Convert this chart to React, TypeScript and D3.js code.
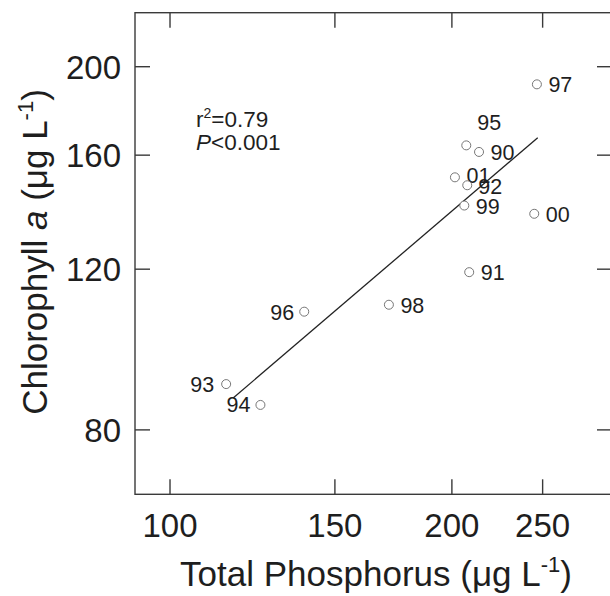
import { useEffect, useRef } from 'react'
import * as d3 from 'd3'

// years (labels), total phosphorus (ug/L), chlorophyll a (ug/L)
const years = ['97', '95', '90', '01', '92', '99', '00', '91', '96', '98', '93', '94']
const tpValues = [246.5, 207.2, 213.8, 201.5, 207.7, 206.2, 244.9, 208.7, 139.1, 171.3, 114.8, 124.9]
const chlValues = [191.3, 164.0, 161.3, 151.3, 148.3, 140.9, 138.0, 119.1, 107.8, 109.7, 89.8, 85.2]

// fitted regression line end points
const fitTp = [116.8, 247.0]
const fitChl = [86.7, 167.2]

const xTicks = [100, 150, 200, 250]
const yTicks = [80, 120, 160, 200]

// label placement per year: [dx, dy, anchor]
const labelPos: Record<string, [number, number, string]> = {
  '95': [23, -15, 'middle'],
  '01': [11.5, 6, 'start'],
  '92': [11, 9, 'start'],
  '96': [-10, 8, 'end'],
  '93': [-12, 8, 'end'],
  '94': [-10, 7, 'end'],
}

const W = 610
const H = 596
const FONT = '"Liberation Sans", Arial, sans-serif'

function ScatterChart() {
  const ref = useRef<SVGSVGElement | null>(null)

  useEffect(() => {
    const svg = d3.select(ref.current)
    svg.selectAll('*').remove()

    const left = 135
    const right = 612
    const top = 12.7
    const bottom = 494.3

    const x = d3.scaleLog().domain([91.75, 296.5]).range([left, right])
    const y = d3.scaleLog().domain([68.0, 229.2]).range([bottom, top])

    const axisColor = '#3a3a3a'
    const tickLen = 15

    // frame
    svg
      .append('rect')
      .attr('x', left)
      .attr('y', top)
      .attr('width', right - left)
      .attr('height', bottom - top)
      .attr('fill', 'none')
      .attr('stroke', axisColor)
      .attr('stroke-width', 1.4)

    // x ticks (bottom and top, inward)
    xTicks.forEach((t) => {
      const px = x(t)
      svg.append('line').attr('x1', px).attr('x2', px).attr('y1', bottom).attr('y2', bottom - tickLen)
        .attr('stroke', axisColor).attr('stroke-width', 1.4)
      svg.append('line').attr('x1', px).attr('x2', px).attr('y1', top).attr('y2', top + tickLen)
        .attr('stroke', axisColor).attr('stroke-width', 1.4)
      svg.append('text')
        .attr('x', px)
        .attr('y', 537)
        .attr('text-anchor', 'middle')
        .attr('font-family', FONT)
        .attr('font-size', 33)
        .attr('fill', '#1e1e1e')
        .text(t)
    })

    // y ticks (left and right, inward)
    yTicks.forEach((t) => {
      const py = y(t)
      svg.append('line').attr('x1', left).attr('x2', left + tickLen).attr('y1', py).attr('y2', py)
        .attr('stroke', axisColor).attr('stroke-width', 1.4)
      svg.append('line').attr('x1', right).attr('x2', right - tickLen).attr('y1', py).attr('y2', py)
        .attr('stroke', axisColor).attr('stroke-width', 1.4)
      svg.append('text')
        .attr('x', 121)
        .attr('y', py)
        .attr('dy', '0.36em')
        .attr('text-anchor', 'end')
        .attr('font-family', FONT)
        .attr('font-size', 33)
        .attr('fill', '#1e1e1e')
        .text(t)
    })

    // x axis title
    const xt = svg.append('text')
      .attr('x', 376)
      .attr('y', 586)
      .attr('text-anchor', 'middle')
      .attr('font-family', FONT)
      .attr('font-size', 35)
      .attr('fill', '#1e1e1e')
    xt.append('tspan').text('Total Phosphorus (\u03bcg L')
    xt.append('tspan').attr('font-size', 22).attr('dy', -14).text('-1')
    xt.append('tspan').attr('dy', 14).text(')')

    // y axis title
    const yt = svg.append('text')
      .attr('transform', 'translate(47,252) rotate(-90)')
      .attr('text-anchor', 'middle')
      .attr('font-family', FONT)
      .attr('font-size', 35)
      .attr('fill', '#1e1e1e')
    yt.append('tspan').text('Chlorophyll ')
    yt.append('tspan').attr('font-style', 'italic').text('a')
    yt.append('tspan').text(' (\u03bcg L')
    yt.append('tspan').attr('font-size', 22).attr('dy', -14).text('-1')
    yt.append('tspan').attr('dy', 14).text(')')

    // regression line
    const line = d3.line<number>()
      .x((_, i) => x(fitTp[i]))
      .y((d) => y(d))
    svg.append('path')
      .attr('d', line(fitChl))
      .attr('fill', 'none')
      .attr('stroke', '#222')
      .attr('stroke-width', 1.3)

    // points + labels
    years.forEach((yr, i) => {
      const px = x(tpValues[i])
      const py = y(chlValues[i])
      svg.append('circle')
        .attr('cx', px)
        .attr('cy', py)
        .attr('r', 4.5)
        .attr('fill', 'white')
        .attr('stroke', '#777')
        .attr('stroke-width', 1)
      const [dx, dy, anchor] = labelPos[yr] || [11.5, 8, 'start']
      svg.append('text')
        .attr('x', px + dx)
        .attr('y', py + dy)
        .attr('text-anchor', anchor)
        .attr('font-family', FONT)
        .attr('font-size', 21.5)
        .attr('fill', '#1e1e1e')
        .text(yr)
    })

    // statistics
    const s1 = svg.append('text')
      .attr('x', 196)
      .attr('y', 127)
      .attr('font-family', FONT)
      .attr('font-size', 22.5)
      .attr('fill', '#1e1e1e')
    s1.append('tspan').text('r')
    s1.append('tspan').attr('font-size', 14).attr('dy', -9).text('2')
    s1.append('tspan').attr('dy', 9).text('=0.79')

    const s2 = svg.append('text')
      .attr('x', 196)
      .attr('y', 150)
      .attr('font-family', FONT)
      .attr('font-size', 22.5)
      .attr('fill', '#1e1e1e')
    s2.append('tspan').attr('font-style', 'italic').text('P')
    s2.append('tspan').text('<0.001')
  }, [])

  return (
    <svg
      ref={ref}
      width={W}
      height={H}
      viewBox={`0 0 ${W} ${H}`}
      style={{ position: 'absolute', left: 0, top: 0, background: 'white' }}
    />
  )
}

export default function App() {
  return <ScatterChart />
}
